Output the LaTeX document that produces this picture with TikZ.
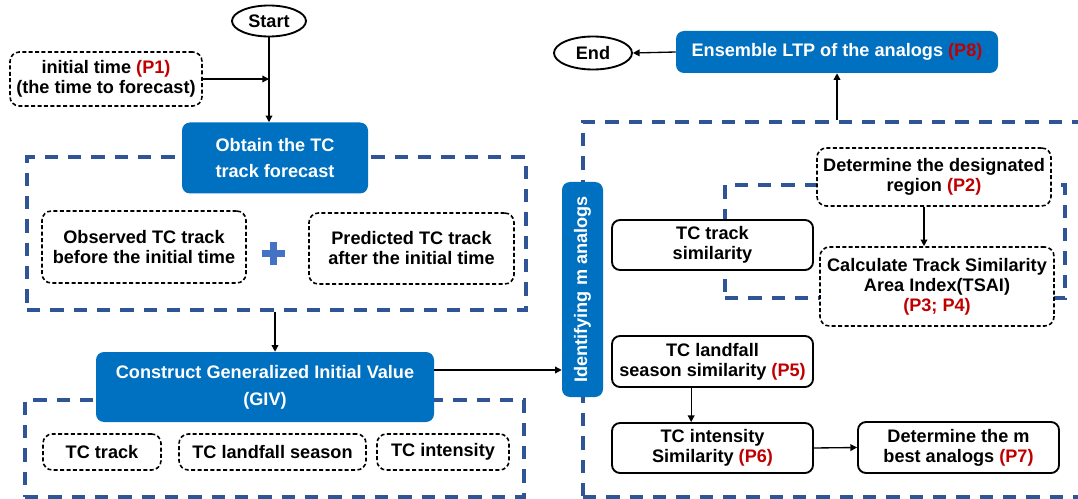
\documentclass[tikz,border=0pt]{standalone}
\usepackage{fontspec}
\setmainfont{Liberation Sans}
\usetikzlibrary{arrows.meta,shapes.geometric}
\definecolor{tcblue}{HTML}{0070C0}
\definecolor{frameblue}{HTML}{2F5597}
\definecolor{pred}{HTML}{C00000}
\definecolor{plusblue}{HTML}{4472C4}
\newcommand{\pxu}{0.75pt}
\newcommand{\pcol}[1]{{\color{pred}#1}}
\begin{document}
\begin{tikzpicture}[x=0.75pt,y=-0.75pt,
 every node/.style={font=\bfseries\fontsize{13.6}{15}\selectfont, align=center, inner sep=0pt},
 bluebox/.style={fill=tcblue, text=white, rounded corners=6pt, font=\bfseries\fontsize{13.6}{20}\selectfont},
 dbox/.style={draw=black, line width=1.2pt, dash pattern=on 3pt off 1.8pt, rounded corners=7pt, fill=white},
 sbox/.style={draw=black, line width=1.4pt, rounded corners=6pt, fill=white},
 frame/.style={draw=frameblue, line width=2.8pt, dash pattern=on 10pt off 7.5pt},
 oval/.style={draw=black, ellipse, line width=1.4pt, fill=white},
 arr/.style={-{Triangle[length=5pt,width=5pt]}, line width=1pt}
]
\useasboundingbox (0,0) rectangle (1078,499);
\clip (0,0) rectangle (1078,499);

% frames
\node[frame, minimum width=499*\pxu, minimum height=153*\pxu] (f1) at (276.5,233.5) {};
\node[frame, minimum width=499*\pxu, minimum height=97*\pxu] (f2) at (274.5,448.5) {};
\node[frame, minimum width=507*\pxu, minimum height=375*\pxu] (f3) at (836.5,309.5) {};
\node[frame, minimum width=340*\pxu, minimum height=113*\pxu] (f4) at (895,241.5) {};

% left column
\node[oval, minimum width=74*\pxu, minimum height=31*\pxu] (start) at (269,21) {Start};
\node[dbox, minimum width=192*\pxu, minimum height=54*\pxu] (init) at (106,79) {initial time \pcol{(P1)}\\(the time to forecast)};
\node[bluebox, minimum width=186*\pxu, minimum height=71*\pxu] (obtain) at (275,158) {Obtain the TC\\track forecast};
\node[dbox, minimum width=204*\pxu, minimum height=72*\pxu] (obs) at (144,247) {Observed TC track\\before the initial time};
\fill[plusblue] (269.5,241.5) rectangle (276.5,264.5);
\fill[plusblue] (261.5,249.5) rectangle (284.5,256.5);
\node[dbox, minimum width=205*\pxu, minimum height=71*\pxu] (pred) at (411.5,248.5) {Predicted TC track\\after the initial time};
\node[bluebox, minimum width=338*\pxu, minimum height=70*\pxu] (giv) at (265,387) {Construct Generalized Initial Value\\(GIV)};
\node[dbox, minimum width=118*\pxu, minimum height=36*\pxu] (tctrack) at (102,452) {TC track};
\node[dbox, minimum width=187*\pxu, minimum height=36*\pxu] (tcland) at (272.5,452) {TC landfall season};
\node[dbox, minimum width=132*\pxu, minimum height=36*\pxu] (tcint) at (443,452) {TC intensity};

% right part
\node[bluebox, rotate=90, minimum width=215*\pxu, minimum height=41*\pxu] (ident) at (582.5,289.5) {Identifying m analogs};
\node[oval, minimum width=78*\pxu, minimum height=33*\pxu] (endn) at (593,53) {End};
\node[bluebox, minimum width=322*\pxu, minimum height=42*\pxu] (ens) at (837,52) {Ensemble LTP of the analogs \pcol{(P8)}};
\node[dbox, minimum width=234*\pxu, minimum height=58*\pxu] (region) at (934,177) {Determine the designated\\region \pcol{(P2)}};
\node[dbox, minimum width=234*\pxu, minimum height=79*\pxu] (tsai) at (937,286.5) {Calculate Track Similarity\\Area Index(TSAI)\\\pcol{(P3; P4)}};
\node[sbox, minimum width=201*\pxu, minimum height=50*\pxu] (trsim) at (712.5,245) {TC track\\similarity};
\node[sbox, minimum width=201*\pxu, minimum height=51*\pxu] (landsim) at (712.5,361.5) {TC landfall\\season similarity \pcol{(P5)}};
\node[sbox, minimum width=201*\pxu, minimum height=50*\pxu] (intsim) at (712.5,448) {TC intensity\\Similarity \pcol{(P6)}};
\node[sbox, minimum width=201*\pxu, minimum height=51*\pxu] (best) at (958.5,447.5) {Determine the m\\best analogs \pcol{(P7)}};

% connectors
\draw[arr] (start.south) -- (start.south |- obtain.north);
\draw[arr] (init.east) -- (start.south |- init.east);
\draw[arr] (f1.south -| obtain.south) -- (obtain.south |- giv.north);
\coordinate (gout) at (434,370);
\draw[arr] (gout) -- (gout -| ident.north);
\draw[arr] (ens.west) -- (endn.east);
\draw[arr] (f3.north -| ens.south) -- (ens.south);
\draw[arr] ([xshift=-7.5pt]region.south) -- ([xshift=-7.5pt]region.south |- tsai.north);
\draw[arr] ([xshift=-16pt]landsim.south) -- ([xshift=-16pt]landsim.south |- intsim.north);
\draw[arr] (intsim.east) -- (best.west);
\end{tikzpicture}
\end{document}
